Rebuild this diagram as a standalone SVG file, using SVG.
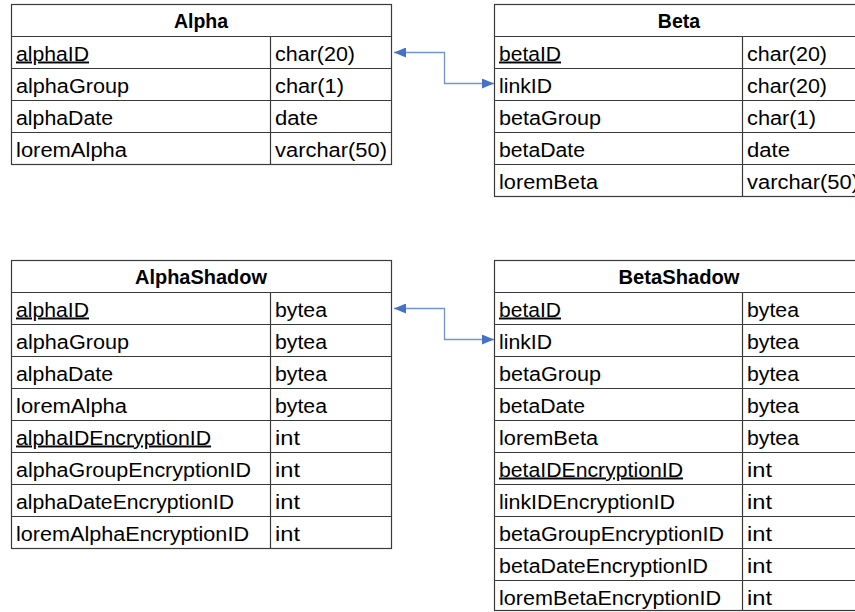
<svg xmlns="http://www.w3.org/2000/svg" width="855" height="612" viewBox="0 0 855 612">
<style>
  .bg { fill: #ffffff; }
  .tbl { fill: #ffffff; stroke: #3a3a3a; stroke-width: 1.2; }
  .ln { stroke: #3a3a3a; stroke-width: 1.2; fill: none; }
  .hd { font-family: "Liberation Sans", Arial, sans-serif; font-size: 19.5px; font-weight: bold; fill: #000; text-anchor: middle; }
  .tx { font-family: "Liberation Sans", Arial, sans-serif; font-size: 19.5px; fill: #000; }
  .pk { text-decoration: underline; }
  .conn { fill: none; stroke: #4472C4; stroke-width: 1.3; stroke-opacity: 0.75; }
</style>
<defs>
  <marker id="arr" viewBox="0 0 12 10" refX="12" refY="5" markerWidth="12" markerHeight="10" markerUnits="userSpaceOnUse" orient="auto-start-reverse">
    <path d="M0,0 L12,5 L0,10 z" fill="#4472C4"/>
  </marker>
</defs>
<rect class="bg" x="0" y="0" width="855" height="612"/>

<g id="Alpha">
  <rect class="tbl" x="11.5" y="4.5" width="380" height="160"/>
  <path class="ln" d="M11.5,36.5H391.5M11.5,68.5H391.5M11.5,100.5H391.5M11.5,132.5H391.5M270.5,36.5V164.5"/>
  <text class="hd" x="201" y="28">Alpha</text>
  <text class="tx pk" x="16" y="60.5" textLength="73" lengthAdjust="spacingAndGlyphs">alphaID</text>
  <text class="tx" x="275" y="60.5" textLength="80" lengthAdjust="spacingAndGlyphs">char(20)</text>
  <text class="tx" x="16" y="92.5" textLength="113" lengthAdjust="spacingAndGlyphs">alphaGroup</text>
  <text class="tx" x="275" y="92.5" textLength="69" lengthAdjust="spacingAndGlyphs">char(1)</text>
  <text class="tx" x="16" y="124.5" textLength="97" lengthAdjust="spacingAndGlyphs">alphaDate</text>
  <text class="tx" x="275" y="124.5" textLength="43" lengthAdjust="spacingAndGlyphs">date</text>
  <text class="tx" x="16" y="156.5" textLength="111" lengthAdjust="spacingAndGlyphs">loremAlpha</text>
  <text class="tx" x="275" y="156.5" textLength="112" lengthAdjust="spacingAndGlyphs">varchar(50)</text>
</g>

<g id="Beta">
  <rect class="tbl" x="494.5" y="4.5" width="370" height="192"/>
  <path class="ln" d="M494.5,36.5H864.5M494.5,68.5H864.5M494.5,100.5H864.5M494.5,132.5H864.5M494.5,164.5H864.5M742.5,36.5V196.5"/>
  <text class="hd" x="679" y="28">Beta</text>
  <text class="tx pk" x="499" y="60.5" textLength="62" lengthAdjust="spacingAndGlyphs">betaID</text>
  <text class="tx" x="747" y="60.5" textLength="80" lengthAdjust="spacingAndGlyphs">char(20)</text>
  <text class="tx" x="499" y="92.5" textLength="53" lengthAdjust="spacingAndGlyphs">linkID</text>
  <text class="tx" x="747" y="92.5" textLength="80" lengthAdjust="spacingAndGlyphs">char(20)</text>
  <text class="tx" x="499" y="124.5" textLength="102" lengthAdjust="spacingAndGlyphs">betaGroup</text>
  <text class="tx" x="747" y="124.5" textLength="69" lengthAdjust="spacingAndGlyphs">char(1)</text>
  <text class="tx" x="499" y="156.5" textLength="86" lengthAdjust="spacingAndGlyphs">betaDate</text>
  <text class="tx" x="747" y="156.5" textLength="43" lengthAdjust="spacingAndGlyphs">date</text>
  <text class="tx" x="499" y="188.5" textLength="99" lengthAdjust="spacingAndGlyphs">loremBeta</text>
  <text class="tx" x="747" y="188.5" textLength="112" lengthAdjust="spacingAndGlyphs">varchar(50)</text>
</g>

<g id="AlphaShadow">
  <rect class="tbl" x="11.5" y="260.5" width="380" height="288"/>
  <path class="ln" d="M11.5,292.5H391.5M11.5,324.5H391.5M11.5,356.5H391.5M11.5,388.5H391.5M11.5,420.5H391.5M11.5,452.5H391.5M11.5,484.5H391.5M11.5,516.5H391.5M270.5,292.5V548.5"/>
  <text class="hd" x="201" y="284" textLength="132" lengthAdjust="spacingAndGlyphs">AlphaShadow</text>
  <text class="tx pk" x="16" y="316.5" textLength="73" lengthAdjust="spacingAndGlyphs">alphaID</text>
  <text class="tx" x="275" y="316.5" textLength="52" lengthAdjust="spacingAndGlyphs">bytea</text>
  <text class="tx" x="16" y="348.5" textLength="113" lengthAdjust="spacingAndGlyphs">alphaGroup</text>
  <text class="tx" x="275" y="348.5" textLength="52" lengthAdjust="spacingAndGlyphs">bytea</text>
  <text class="tx" x="16" y="380.5" textLength="97" lengthAdjust="spacingAndGlyphs">alphaDate</text>
  <text class="tx" x="275" y="380.5" textLength="52" lengthAdjust="spacingAndGlyphs">bytea</text>
  <text class="tx" x="16" y="412.5" textLength="111" lengthAdjust="spacingAndGlyphs">loremAlpha</text>
  <text class="tx" x="275" y="412.5" textLength="52" lengthAdjust="spacingAndGlyphs">bytea</text>
  <text class="tx pk" x="16" y="444.5" textLength="195" lengthAdjust="spacingAndGlyphs">alphaIDEncryptionID</text>
  <text class="tx" x="275" y="444.5" textLength="25" lengthAdjust="spacingAndGlyphs">int</text>
  <text class="tx" x="16" y="476.5" textLength="235" lengthAdjust="spacingAndGlyphs">alphaGroupEncryptionID</text>
  <text class="tx" x="275" y="476.5" textLength="25" lengthAdjust="spacingAndGlyphs">int</text>
  <text class="tx" x="16" y="508.5" textLength="218" lengthAdjust="spacingAndGlyphs">alphaDateEncryptionID</text>
  <text class="tx" x="275" y="508.5" textLength="25" lengthAdjust="spacingAndGlyphs">int</text>
  <text class="tx" x="16" y="540.5" textLength="233" lengthAdjust="spacingAndGlyphs">loremAlphaEncryptionID</text>
  <text class="tx" x="275" y="540.5" textLength="25" lengthAdjust="spacingAndGlyphs">int</text>
</g>

<g id="BetaShadow">
  <rect class="tbl" x="494.5" y="260.5" width="370" height="350"/>
  <path class="ln" d="M494.5,292.5H864.5M494.5,324.5H864.5M494.5,356.5H864.5M494.5,388.5H864.5M494.5,420.5H864.5M494.5,452.5H864.5M494.5,484.5H864.5M494.5,516.5H864.5M494.5,548.5H864.5M494.5,580.5H864.5M742.5,292.5V610.5"/>
  <text class="hd" x="679" y="284" textLength="121" lengthAdjust="spacingAndGlyphs">BetaShadow</text>
  <text class="tx pk" x="499" y="316.5" textLength="62" lengthAdjust="spacingAndGlyphs">betaID</text>
  <text class="tx" x="747" y="316.5" textLength="52" lengthAdjust="spacingAndGlyphs">bytea</text>
  <text class="tx" x="499" y="348.5" textLength="53" lengthAdjust="spacingAndGlyphs">linkID</text>
  <text class="tx" x="747" y="348.5" textLength="52" lengthAdjust="spacingAndGlyphs">bytea</text>
  <text class="tx" x="499" y="380.5" textLength="102" lengthAdjust="spacingAndGlyphs">betaGroup</text>
  <text class="tx" x="747" y="380.5" textLength="52" lengthAdjust="spacingAndGlyphs">bytea</text>
  <text class="tx" x="499" y="412.5" textLength="86" lengthAdjust="spacingAndGlyphs">betaDate</text>
  <text class="tx" x="747" y="412.5" textLength="52" lengthAdjust="spacingAndGlyphs">bytea</text>
  <text class="tx" x="499" y="444.5" textLength="99" lengthAdjust="spacingAndGlyphs">loremBeta</text>
  <text class="tx" x="747" y="444.5" textLength="52" lengthAdjust="spacingAndGlyphs">bytea</text>
  <text class="tx pk" x="499" y="476.5" textLength="184" lengthAdjust="spacingAndGlyphs">betaIDEncryptionID</text>
  <text class="tx" x="747" y="476.5" textLength="25" lengthAdjust="spacingAndGlyphs">int</text>
  <text class="tx" x="499" y="508.5" textLength="176" lengthAdjust="spacingAndGlyphs">linkIDEncryptionID</text>
  <text class="tx" x="747" y="508.5" textLength="25" lengthAdjust="spacingAndGlyphs">int</text>
  <text class="tx" x="499" y="540.5" textLength="225" lengthAdjust="spacingAndGlyphs">betaGroupEncryptionID</text>
  <text class="tx" x="747" y="540.5" textLength="25" lengthAdjust="spacingAndGlyphs">int</text>
  <text class="tx" x="499" y="572.5" textLength="209" lengthAdjust="spacingAndGlyphs">betaDateEncryptionID</text>
  <text class="tx" x="747" y="572.5" textLength="25" lengthAdjust="spacingAndGlyphs">int</text>
  <text class="tx" x="499" y="604.5" textLength="222" lengthAdjust="spacingAndGlyphs">loremBetaEncryptionID</text>
  <text class="tx" x="747" y="604.5" textLength="25" lengthAdjust="spacingAndGlyphs">int</text>
</g>

<g id="connectors">
  <path class="conn" d="M394,52.5H444.5V83.5H494" marker-start="url(#arr)" marker-end="url(#arr)"/>
  <path class="conn" d="M394,308.5H444.5V339.5H494" marker-start="url(#arr)" marker-end="url(#arr)"/>
</g>
</svg>
